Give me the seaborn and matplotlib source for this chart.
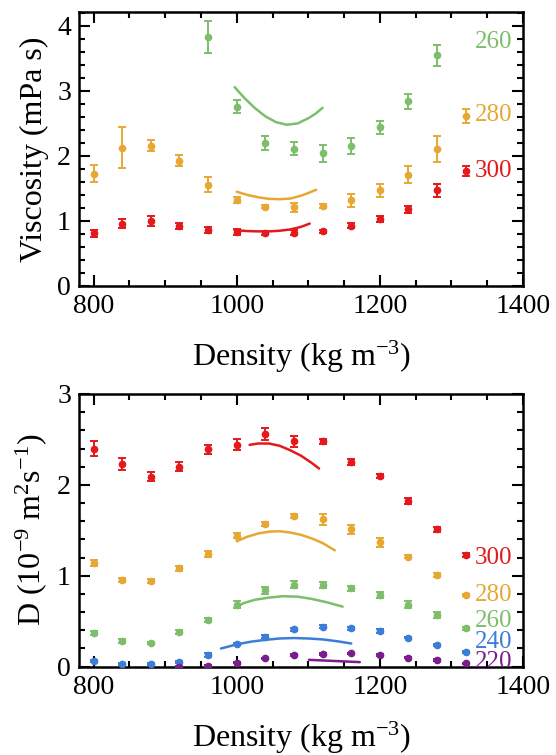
import numpy as np
import pandas as pd
import matplotlib
matplotlib.use("Agg")
import matplotlib.pyplot as plt
import seaborn as sns
from matplotlib.ticker import MultipleLocator

sns.set_theme(style="ticks")
plt.rcParams.update({
    "font.family": ["Liberation Serif", "DejaVu Serif"],
    "mathtext.fontset": "custom",
    "mathtext.rm": "Liberation Serif",
    "mathtext.it": "Liberation Serif:italic",
    "mathtext.bf": "Liberation Serif:bold",
    "text.color": "black",
    "axes.labelcolor": "black",
    "xtick.color": "black",
    "ytick.color": "black",
    "axes.edgecolor": "black",
    "axes.linewidth": 1.8,
})

RED = "#E3191C"
ORANGE = "#E6A833"
GREEN = "#7DBE6A"
BLUE = "#3B7DD8"
PURPLE = "#7B1E8C"

density = [800, 840, 880, 920, 960, 1000, 1040, 1080, 1120, 1160, 1200, 1240, 1280, 1320]

# ---- viscosity (top panel) ----
visc_300 = [0.81, 0.96, 1.00, 0.92, 0.86, 0.83, 0.81, 0.82, 0.84, 0.93, 1.03, 1.18, 1.47, 1.77]
visc_300_err = [0.05, 0.07, 0.07, 0.05, 0.04, 0.04, 0.03, 0.04, 0.02, 0.04, 0.04, 0.05, 0.10, 0.08]
visc_280 = [1.73, 2.13, 2.16, 1.93, 1.56, 1.32, 1.22, 1.21, 1.23, 1.32, 1.47, 1.71, 2.11, 2.62]
visc_280_err = [0.13, 0.31, 0.09, 0.09, 0.12, 0.05, 0.02, 0.07, 0.03, 0.10, 0.10, 0.13, 0.20, 0.11]
density_260v = [960, 1000, 1040, 1080, 1120, 1160, 1200, 1240, 1280]
visc_260 = [3.83, 2.76, 2.20, 2.11, 2.04, 2.15, 2.44, 2.84, 3.55]
visc_260_err = [0.25, 0.10, 0.11, 0.10, 0.125, 0.12, 0.10, 0.11, 0.16]

fit_v260_x = [997, 1010, 1025, 1040, 1055, 1070, 1085, 1100, 1110, 1120]
fit_v260_y = [3.06, 2.90, 2.74, 2.61, 2.52, 2.48, 2.50, 2.58, 2.65, 2.74]
fit_v280_x = [1000, 1015, 1030, 1045, 1060, 1075, 1090, 1100, 1111]
fit_v280_y = [1.45, 1.40, 1.365, 1.34, 1.335, 1.345, 1.39, 1.43, 1.48]
fit_v300_x = [997, 1015, 1030, 1045, 1060, 1075, 1090, 1102]
fit_v300_y = [0.86, 0.845, 0.84, 0.84, 0.85, 0.87, 0.91, 0.96]

# ---- diffusion (bottom panel) ----
diff_300 = [2.40, 2.23, 2.09, 2.20, 2.39, 2.44, 2.56, 2.48, 2.48, 2.25, 2.10, 1.82, 1.51, 1.23]
diff_300_err = [0.08, 0.07, 0.05, 0.05, 0.05, 0.06, 0.07, 0.06, 0.03, 0.03, 0.02, 0.03, 0.03, 0.02]
diff_280 = [1.14, 0.95, 0.94, 1.08, 1.24, 1.44, 1.57, 1.66, 1.62, 1.51, 1.37, 1.21, 1.01, 0.79]
diff_280_err = [0.03, 0.02, 0.02, 0.03, 0.03, 0.03, 0.02, 0.02, 0.06, 0.05, 0.05, 0.02, 0.02, 0.01]
diff_260 = [0.37, 0.28, 0.26, 0.38, 0.51, 0.68, 0.84, 0.90, 0.90, 0.86, 0.79, 0.68, 0.57, 0.42]
diff_260_err = [0.02, 0.02, 0.01, 0.02, 0.02, 0.04, 0.04, 0.04, 0.03, 0.03, 0.03, 0.04, 0.03, 0.02]
diff_240 = [0.06, 0.03, 0.03, 0.05, 0.13, 0.245, 0.33, 0.41, 0.44, 0.42, 0.39, 0.32, 0.24, 0.165]
diff_240_err = [0.01, 0.01, 0.01, 0.01, 0.02, 0.01, 0.02, 0.02, 0.02, 0.02, 0.02, 0.01, 0.01, 0.01]
density_220 = [920, 960, 1000, 1040, 1080, 1120, 1160, 1200, 1240, 1280, 1320]
diff_220 = [-0.005, 0.01, 0.045, 0.09, 0.13, 0.14, 0.145, 0.13, 0.10, 0.07, 0.035]
diff_220_err = [0.01] * 11

fit_d300_x = [1018, 1030, 1045, 1060, 1075, 1090, 1105, 1115]
fit_d300_y = [2.44, 2.455, 2.455, 2.43, 2.38, 2.32, 2.24, 2.18]
fit_d280_x = [1000, 1015, 1030, 1045, 1060, 1075, 1090, 1105, 1120, 1137]
fit_d280_y = [1.38, 1.43, 1.465, 1.485, 1.49, 1.475, 1.45, 1.41, 1.36, 1.28]
fit_d260_x = [997, 1010, 1025, 1045, 1065, 1085, 1105, 1125, 1148]
fit_d260_y = [0.65, 0.70, 0.735, 0.76, 0.775, 0.77, 0.745, 0.71, 0.66]
fit_d240_x = [978, 1000, 1020, 1040, 1060, 1080, 1100, 1120, 1140, 1160]
fit_d240_y = [0.20, 0.245, 0.275, 0.295, 0.31, 0.315, 0.31, 0.30, 0.28, 0.255]
fit_d220_x = [1101, 1135, 1172]
fit_d220_y = [0.075, 0.063, 0.05]

label_x = 1333
visc_labels = [("260", 3.76, GREEN), ("280", 2.63, ORANGE), ("300", 1.77, RED)]
diff_labels = [("300", 1.19, RED), ("280", 0.79, ORANGE), ("260", 0.50, GREEN),
               ("240", 0.27, BLUE), ("220", 0.05, PURPLE)]

TICK_FS = 20
LABEL_FS = 23
TAG_FS = 18


def style_axes(ax, ymax, yminor):
    ax.set_xlim(780, 1400)
    ax.set_ylim(0, ymax)
    ax.xaxis.set_major_locator(MultipleLocator(200))
    ax.xaxis.set_minor_locator(MultipleLocator(50))
    ax.yaxis.set_major_locator(MultipleLocator(1))
    ax.yaxis.set_minor_locator(MultipleLocator(yminor))
    ax.tick_params(which="both", direction="in", top=True, right=True,
                   color="black", labelcolor="black", labelsize=TICK_FS, pad=6)
    ax.tick_params(which="major", length=8, width=1.5)
    ax.tick_params(which="minor", length=4.5, width=1.5)
    for s in ax.spines.values():
        s.set_linewidth(1.8)
        s.set_color("black")
    ax.grid(False)
    ax.set_facecolor("white")


def points(ax, x, y, err, color):
    ax.errorbar(x, y, yerr=err, fmt="o", ms=4.5, color=color, ecolor=color,
                elinewidth=1.4, capsize=3, capthick=1.4, zorder=3)


def curve(ax, x, y, color):
    df = pd.DataFrame({"x": x, "y": y})
    sns.lineplot(data=df, x="x", y="y", ax=ax, color=color, lw=1.8, sort=False)


fig = plt.figure(figsize=(5.56, 7.55), dpi=100)
ax1 = fig.add_axes([0.1426, 0.6212, 0.798, 0.3625])
ax2 = fig.add_axes([0.1426, 0.1170, 0.798, 0.3612])

# top panel
points(ax1, density, visc_300, visc_300_err, RED)
points(ax1, density, visc_280, visc_280_err, ORANGE)
points(ax1, density_260v, visc_260, visc_260_err, GREEN)
curve(ax1, fit_v260_x, fit_v260_y, GREEN)
curve(ax1, fit_v280_x, fit_v280_y, ORANGE)
curve(ax1, fit_v300_x, fit_v300_y, RED)
for txt, yy, c in visc_labels:
    ax1.text(label_x, yy, txt, color=c, fontsize=TAG_FS, va="center", ha="left", clip_on=True)
style_axes(ax1, 4.21, 0.2)
ax1.set_xlabel("Density (kg m$^{-3}$)", fontsize=LABEL_FS, labelpad=14)
ax1.set_ylabel("Viscosity (mPa s)", fontsize=LABEL_FS, labelpad=6)

# bottom panel
points(ax2, density, diff_300, diff_300_err, RED)
points(ax2, density, diff_280, diff_280_err, ORANGE)
points(ax2, density, diff_260, diff_260_err, GREEN)
points(ax2, density, diff_240, diff_240_err, BLUE)
points(ax2, density_220, diff_220, diff_220_err, PURPLE)
curve(ax2, fit_d300_x, fit_d300_y, RED)
curve(ax2, fit_d280_x, fit_d280_y, ORANGE)
curve(ax2, fit_d260_x, fit_d260_y, GREEN)
curve(ax2, fit_d240_x, fit_d240_y, BLUE)
curve(ax2, fit_d220_x, fit_d220_y, PURPLE)
for txt, yy, c in diff_labels:
    ax2.text(label_x, yy, txt, color=c, fontsize=TAG_FS, va="center", ha="left", clip_on=True)
style_axes(ax2, 3, 0.2)
ax2.set_xlabel("Density (kg m$^{-3}$)", fontsize=LABEL_FS, labelpad=14)
ax2.set_ylabel("D (10$^{-9}$ m$^{2}$s$^{-1}$)", fontsize=LABEL_FS, labelpad=6)

fig.savefig("out.png", dpi=100, facecolor="white")
